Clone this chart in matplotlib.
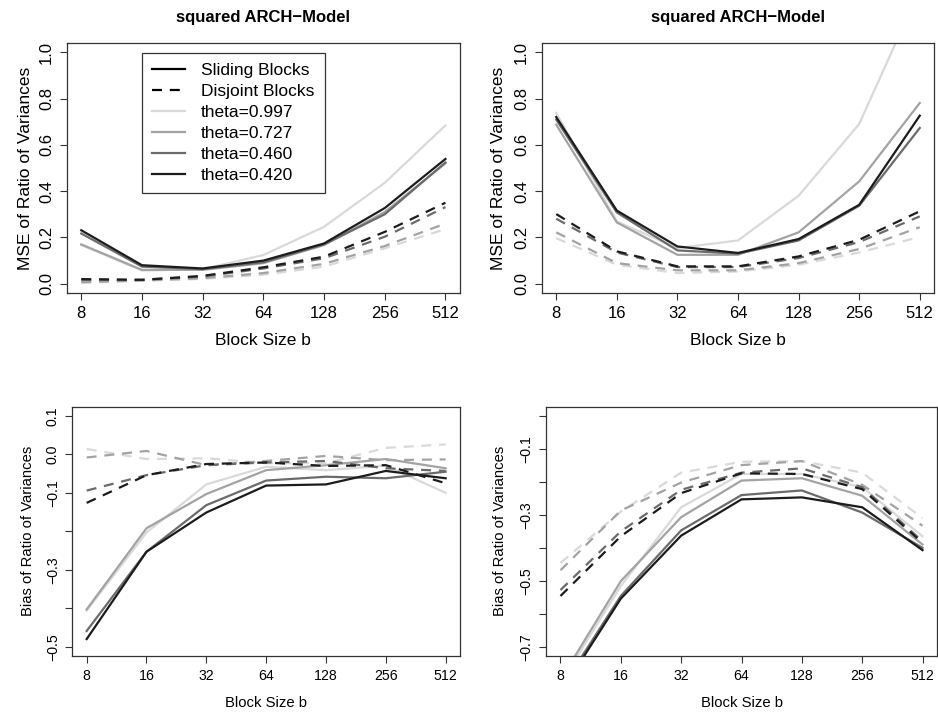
import matplotlib
matplotlib.use("Agg")
import matplotlib.pyplot as plt
from matplotlib.lines import Line2D

plt.rcParams['font.family'] = ['Liberation Sans', 'DejaVu Sans']

blocks = [8, 16, 32, 64, 128, 256, 512]
tick_labels = ['8', '16', '32', '64', '128', '256', '512']
thetas = ['0.997', '0.727', '0.460', '0.420']
colors = ['#d9d9d9', '#a3a3a3', '#6b6b6b', '#1c1c1c']

mse1_sliding = [
    [0.167, 0.057, 0.063, 0.124, 0.246, 0.436, 0.684],
    [0.170, 0.060, 0.060, 0.089, 0.167, 0.310, 0.520],
    [0.217, 0.074, 0.063, 0.093, 0.170, 0.300, 0.524],
    [0.231, 0.080, 0.066, 0.100, 0.174, 0.327, 0.539],
]
mse1_disjoint = [
    [0.003, 0.013, 0.021, 0.039, 0.074, 0.153, 0.236],
    [0.007, 0.014, 0.024, 0.046, 0.086, 0.163, 0.260],
    [0.017, 0.017, 0.031, 0.066, 0.110, 0.203, 0.331],
    [0.020, 0.017, 0.034, 0.071, 0.117, 0.224, 0.350],
]
mse2_sliding = [
    [0.738, 0.269, 0.154, 0.187, 0.380, 0.690, 1.270],
    [0.687, 0.265, 0.125, 0.125, 0.222, 0.442, 0.781],
    [0.709, 0.308, 0.144, 0.130, 0.187, 0.337, 0.673],
    [0.720, 0.316, 0.161, 0.133, 0.193, 0.341, 0.726],
]
mse2_disjoint = [
    [0.197, 0.082, 0.046, 0.053, 0.082, 0.135, 0.202],
    [0.222, 0.089, 0.058, 0.058, 0.089, 0.150, 0.244],
    [0.281, 0.135, 0.072, 0.072, 0.111, 0.180, 0.291],
    [0.301, 0.140, 0.075, 0.075, 0.118, 0.190, 0.313],
]
bias1_sliding = [
    [-0.406, -0.203, -0.078, -0.032, -0.041, -0.029, -0.100],
    [-0.403, -0.192, -0.103, -0.041, -0.028, -0.012, -0.036],
    [-0.459, -0.253, -0.132, -0.068, -0.058, -0.062, -0.045],
    [-0.480, -0.253, -0.151, -0.081, -0.078, -0.043, -0.062],
]
bias1_disjoint = [
    [0.014, -0.012, -0.010, -0.023, -0.023, 0.017, 0.026],
    [-0.008, 0.009, -0.028, -0.017, -0.004, -0.015, -0.013],
    [-0.094, -0.054, -0.028, -0.021, -0.017, -0.036, -0.043],
    [-0.126, -0.054, -0.025, -0.021, -0.030, -0.028, -0.075],
]
bias2_sliding = [
    [-0.810, -0.516, -0.277, -0.176, -0.176, -0.216, -0.365],
    [-0.800, -0.501, -0.307, -0.196, -0.189, -0.242, -0.390],
    [-0.830, -0.546, -0.347, -0.240, -0.226, -0.293, -0.400],
    [-0.840, -0.554, -0.363, -0.253, -0.247, -0.277, -0.407],
]
bias2_disjoint = [
    [-0.446, -0.290, -0.172, -0.139, -0.137, -0.172, -0.310],
    [-0.468, -0.287, -0.202, -0.149, -0.137, -0.209, -0.333],
    [-0.528, -0.350, -0.224, -0.172, -0.159, -0.216, -0.380],
    [-0.546, -0.365, -0.234, -0.174, -0.176, -0.222, -0.385],
]

mse_ticks = [0.0, 0.2, 0.4, 0.6, 0.8, 1.0]
mse_ticklabels = ['0.0', '0.2', '0.4', '0.6', '0.8', '1.0']
bias1_ticks = [0.1, 0.0, -0.1, -0.2, -0.3, -0.4, -0.5]
bias1_ticklabels = ['0.1', '0.0', '\u22120.1', '', '\u22120.3', '', '\u22120.5']
bias2_ticks = [0.0, -0.1, -0.2, -0.3, -0.4, -0.5, -0.6, -0.7]
bias2_ticklabels = ['', '\u22120.1', '', '\u22120.3', '', '\u22120.5', '', '\u22120.7']

title = 'squared ARCH\u2212Model'
W, H = 938, 716
fig = plt.figure(figsize=(W / 100, H / 100), dpi=100)


def px_axes(l, t, r, b):
    return fig.add_axes([l / W, 1 - b / H, (r - l) / W, (b - t) / H])


LW = 1.6


def panel(ax, sliding, disjoint, ylim, yticks, yticklabels, ylabel, fs, ylab_x, xlab_y, ttl=None):
    for vals, c in zip(sliding, colors):
        ax.plot(blocks, vals, color=c, lw=LW, solid_joinstyle='miter')
    for vals, c in zip(disjoint, colors):
        ax.plot(blocks, vals, color=c, lw=LW, dashes=(4.5, 3.5))
    ax.set_xscale('log', base=2)
    lo, hi = 2 ** 2.76, 2 ** 9.24
    ax.set_xlim(lo, hi)
    ax.minorticks_off()
    ax.set_xticks(blocks)
    ax.set_xticklabels(tick_labels, fontsize=fs)
    d = (ylim[1] - ylim[0]) * 0.04
    ax.set_ylim(ylim[0] - d, ylim[1] + d)
    ax.set_yticks(yticks)
    ax.set_yticklabels(yticklabels, fontsize=fs, rotation=90, va='center')
    ax.tick_params(length=5, width=0.8, color='#333333', pad=4)
    for s in ax.spines.values():
        s.set_linewidth(0.9)
        s.set_color('#333333')
    ax.set_xlabel('Block Size b', fontsize=fs + 0.5, va='center')
    ax.set_ylabel(ylabel, fontsize=fs + 0.5, va='center')
    ax.xaxis.set_label_coords(0.5, xlab_y)
    ax.yaxis.set_label_coords(ylab_x, 0.5)
    if ttl:
        ax.set_title(ttl, fontsize=12, fontweight='bold', pad=15)


ax1 = px_axes(66.7, 43, 460, 293)
panel(ax1, mse1_sliding, mse1_disjoint, (0, 1), mse_ticks, mse_ticklabels,
      'MSE of Ratio of Variances', 12, -0.106, -0.188, title)
ax2 = px_axes(541.7, 43, 934.3, 293)
panel(ax2, mse2_sliding, mse2_disjoint, (0, 1), mse_ticks, mse_ticklabels,
      'MSE of Ratio of Variances', 12, -0.110, -0.188, title)
ax3 = px_axes(72.3, 406.7, 460, 656)
panel(ax3, bias1_sliding, bias1_disjoint, (-0.5, 0.1), bias1_ticks, bias1_ticklabels,
      'Bias of Ratio of Variances', 10.2, -0.114, -0.1885)
ax4 = px_axes(546, 406.7, 937, 656)
panel(ax4, bias2_sliding, bias2_disjoint, (-0.7, 0.0), bias2_ticks, bias2_ticklabels,
      'Bias of Ratio of Variances', 10.2, -0.118, -0.1885)

handles = [
    Line2D([], [], color='black', lw=LW),
    Line2D([], [], color='black', lw=LW, dashes=(4.5, 3.5)),
] + [Line2D([], [], color=c, lw=LW) for c in colors]
labels = ['Sliding Blocks', 'Disjoint Blocks'] + ['theta=' + t for t in thetas]
leg = ax1.legend(handles, labels, loc='upper left', bbox_to_anchor=(0.1907, 0.961),
                 borderaxespad=0, fontsize=12.5, frameon=True, fancybox=False,
                 edgecolor='black', handlelength=1.9, handletextpad=0.9,
                 labelspacing=0.33, borderpad=0.6)
leg.get_frame().set_linewidth(0.9)

fig.savefig('out.png', dpi=100)
